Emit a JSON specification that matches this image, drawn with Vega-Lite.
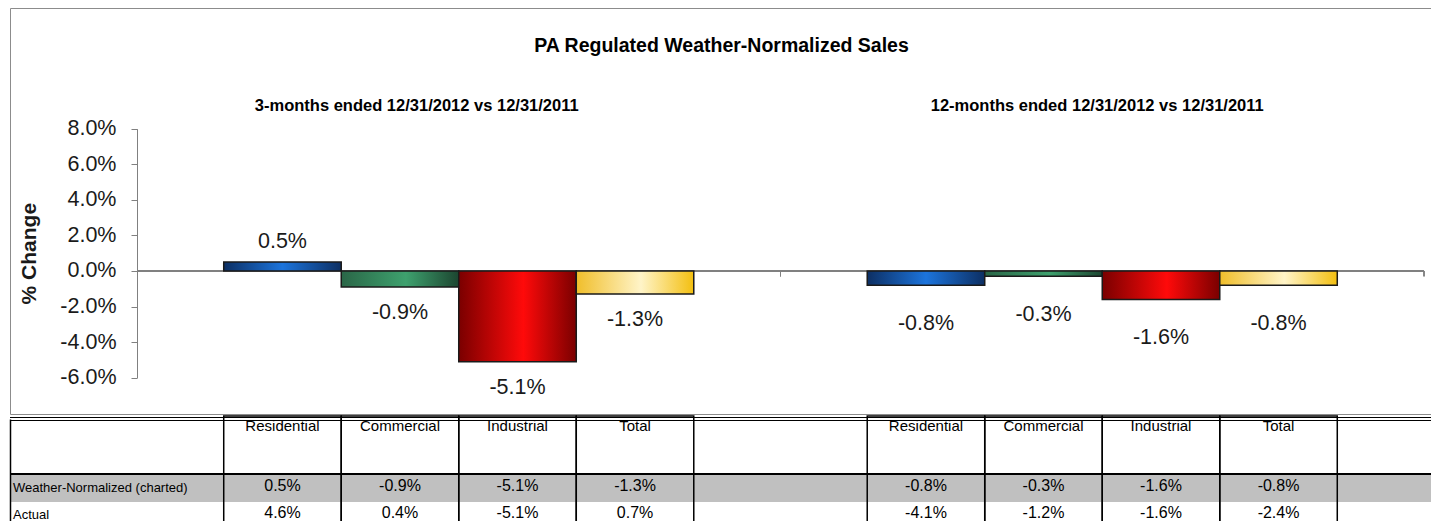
{
  "$schema": "https://vega.github.io/schema/vega-lite/v6.json",
  "padding": {"left": 8, "top": 7, "right": 0, "bottom": 0},
  "spacing": 0,
  "background": "white",
  "config": {
    "font": "Liberation Sans",
    "view": {"stroke": "#8c8c8c"},
    "locale": {"number": {"decimal": ".", "thousands": ",", "grouping": [3], "currency": ["$", ""], "minus": "-"}}
  },
  "datasets": {
    "sales": [
      {"period": "3-months ended 12/31/2012 vs 12/31/2011", "series": "Residential", "value": 0.005, "wn": 0.005, "actual": 0.046},
      {"period": "3-months ended 12/31/2012 vs 12/31/2011", "series": "Commercial", "value": -0.009, "wn": -0.009, "actual": 0.004},
      {"period": "3-months ended 12/31/2012 vs 12/31/2011", "series": "Industrial", "value": -0.051, "wn": -0.051, "actual": -0.051},
      {"period": "3-months ended 12/31/2012 vs 12/31/2011", "series": "Total", "value": -0.013, "wn": -0.013, "actual": 0.007},
      {"period": "12-months ended 12/31/2012 vs 12/31/2011", "series": "Residential", "value": -0.008, "wn": -0.008, "actual": -0.041},
      {"period": "12-months ended 12/31/2012 vs 12/31/2011", "series": "Commercial", "value": -0.003, "wn": -0.003, "actual": -0.012},
      {"period": "12-months ended 12/31/2012 vs 12/31/2011", "series": "Industrial", "value": -0.016, "wn": -0.016, "actual": -0.016},
      {"period": "12-months ended 12/31/2012 vs 12/31/2011", "series": "Total", "value": -0.008, "wn": -0.008, "actual": -0.024}
    ]
  },
  "vconcat": [
    {
      "width": 1423,
      "height": 406,
      "title": {"text": "PA Regulated Weather-Normalized Sales", "fontSize": 19.5, "fontWeight": "bold", "color": "#000", "anchor": "middle", "baseline": "middle", "offset": -57},
      "data": {"name": "sales"},
      "encoding": {
        "x": {
          "field": "period", "type": "nominal",
          "scale": {"domain": ["3-months ended 12/31/2012 vs 12/31/2011", "12-months ended 12/31/2012 vs 12/31/2011"], "range": [127, 1414], "paddingInner": 0, "paddingOuter": 0},
          "axis": {"orient": "top", "offset": -97, "domain": false, "ticks": false, "labelPadding": 0, "labelBaseline": "middle", "labelAngle": 0, "labelFontSize": 16.5, "labelFontWeight": "bold", "labelColor": "#000", "labelLimit": 1000, "title": null,
            "labelOffset": {"condition": {"test": "indexof(datum.label, '3-') === 0", "value": -42}, "value": -5}}
        },
        "y": {
          "field": "value", "type": "quantitative",
          "scale": {"domain": [-0.06, 0.08], "nice": false, "zero": false, "range": [369.7, 120.7]},
          "axis": {"orient": "left", "offset": -127, "values": [-0.06, -0.04, -0.02, 0, 0.02, 0.04, 0.06, 0.08], "format": ".1%", "grid": false, "tickSize": 6, "tickColor": "#808080", "domainColor": "#808080", "labelFontSize": 21.5, "labelColor": "#1a1a1a", "labelPadding": 15, "title": "% Change", "titleFontSize": 21, "titleFontWeight": "bold", "titleColor": "#1a1a1a", "titlePadding": 20}
        }
      },
      "layer": [
        {
          "mark": {"type": "rect", "fillOpacity": 0, "stroke": "#808080", "strokeWidth": 1},
          "encoding": {"y": {"datum": 0}, "y2": {"datum": 0}}
        },
        {
          "mark": {"type": "rule", "color": "#808080", "strokeWidth": 1},
          "encoding": {"x": {"field": "period", "type": "nominal", "bandPosition": 1}, "y": {"datum": 0}, "y2": {"datum": -0.003}}
        },
        {
          "mark": {"type": "bar", "stroke": "#1a1a1a", "strokeWidth": 1.5},
          "encoding": {
            "xOffset": {"field": "series", "type": "nominal", "scale": {"domain": ["Residential", "Commercial", "Industrial", "Total"], "paddingInner": 0, "paddingOuter": 0.738}},
            "fill": {
              "condition": [
                {"test": "datum.series === 'Residential'", "value": {"gradient": "linear", "x1": 0, "x2": 1, "y1": 0, "y2": 0, "stops": [{"offset": 0, "color": "#0d2f63"}, {"offset": 0.5, "color": "#1c74dc"}, {"offset": 1, "color": "#0d2f63"}]}},
                {"test": "datum.series === 'Commercial'", "value": {"gradient": "linear", "x1": 0, "x2": 1, "y1": 0, "y2": 0, "stops": [{"offset": 0, "color": "#2a6647"}, {"offset": 0.55, "color": "#3ea16e"}, {"offset": 1, "color": "#1c4530"}]}},
                {"test": "datum.series === 'Industrial'", "value": {"gradient": "linear", "x1": 0, "x2": 1, "y1": 0, "y2": 0, "stops": [{"offset": 0, "color": "#7a0000"}, {"offset": 0.55, "color": "#ff0a0a"}, {"offset": 1, "color": "#7a0000"}]}}
              ],
              "value": {"gradient": "linear", "x1": 0, "x2": 1, "y1": 0, "y2": 0, "stops": [{"offset": 0, "color": "#f0be2a"}, {"offset": 0.55, "color": "#fff4c8"}, {"offset": 1, "color": "#f3bf10"}]}
            }
          }
        },
        {
          "transform": [{"filter": "datum.value >= 0"}],
          "mark": {"type": "text", "baseline": "middle", "dy": -20, "fontSize": 21.5, "color": "#1a1a1a"},
          "encoding": {
            "xOffset": {"field": "series", "type": "nominal"},
            "text": {"field": "value", "type": "quantitative", "format": ".1%"}
          }
        },
        {
          "transform": [{"filter": "datum.value < 0 && indexof(datum.period, '3-') === 0"}],
          "mark": {"type": "text", "baseline": "middle", "dy": 26, "fontSize": 21.5, "color": "#1a1a1a"},
          "encoding": {
            "xOffset": {"field": "series", "type": "nominal"},
            "text": {"field": "value", "type": "quantitative", "format": ".1%"}
          }
        },
        {
          "transform": [{"filter": "datum.value < 0 && indexof(datum.period, '12-') === 0"}],
          "mark": {"type": "text", "baseline": "middle", "dy": 39, "fontSize": 21.5, "color": "#1a1a1a"},
          "encoding": {
            "xOffset": {"field": "series", "type": "nominal"},
            "text": {"field": "value", "type": "quantitative", "format": ".1%"}
          }
        }
      ]
    },
    {
      "width": 1423,
      "height": 108,
      "view": {"stroke": null},
      "data": {"name": "sales"},
      "layer": [
        {
          "mark": {"type": "rect", "color": "#c0c0c0"},
          "encoding": {
            "y": {
              "datum": "wn", "type": "nominal",
              "scale": {"domain": ["h1", "h2", "wn", "actual"], "range": [3, 113], "paddingInner": 0, "paddingOuter": 0},
              "axis": {"orient": "left", "values": ["wn", "actual"], "labelExpr": "datum.value === 'wn' ? 'Weather-Normalized (charted)' : 'Actual'", "labelAlign": "left", "labelBaseline": "middle", "labelPadding": -2.5, "ticks": false, "domain": true, "domainColor": "#000", "domainWidth": 1.5, "grid": false, "title": null, "labelFontSize": 13, "labelColor": "#000", "labelLimit": 1000}
            }
          }
        },
        {
          "mark": {"type": "rule", "color": "#000", "strokeWidth": 4},
          "encoding": {"y": {"datum": "h1", "type": "nominal", "bandPosition": 0}}
        },
        {
          "mark": {"type": "rule", "color": "#ffffff", "strokeWidth": 1.2},
          "encoding": {"y": {"datum": "h1", "type": "nominal", "bandPosition": 0}}
        },
        {
          "mark": {"type": "rule", "color": "#000", "strokeWidth": 2},
          "encoding": {"y": {"datum": "wn", "type": "nominal", "bandPosition": 0}}
        },
        {
          "mark": {"type": "rect", "fillOpacity": 0, "stroke": "#000", "strokeWidth": 1.5},
          "encoding": {
            "x": {"field": "period", "type": "nominal", "scale": {"domain": ["3-months ended 12/31/2012 vs 12/31/2011", "12-months ended 12/31/2012 vs 12/31/2011"], "range": [127, 1414], "paddingInner": 0, "paddingOuter": 0}, "axis": null},
            "xOffset": {"field": "series", "type": "nominal", "scale": {"domain": ["Residential", "Commercial", "Industrial", "Total"], "paddingInner": 0, "paddingOuter": 0.715}}
          }
        },
        {
          "mark": {"type": "text", "baseline": "middle", "dy": -7, "fontSize": 15, "color": "#000"},
          "encoding": {
            "x": {"field": "period", "type": "nominal", "axis": null},
            "xOffset": {"field": "series", "type": "nominal"},
            "y": {"datum": "h1", "type": "nominal"},
            "text": {"field": "series", "type": "nominal"}
          }
        },
        {
          "transform": [{"fold": ["wn", "actual"], "as": ["row", "v"]}],
          "mark": {"type": "text", "baseline": "middle", "dy": -2, "fontSize": 16, "color": "#000"},
          "encoding": {
            "x": {"field": "period", "type": "nominal", "axis": null},
            "xOffset": {"field": "series", "type": "nominal"},
            "y": {"field": "row", "type": "nominal"},
            "text": {"field": "v", "type": "quantitative", "format": ".1%"}
          }
        }
      ]
    }
  ]
}
